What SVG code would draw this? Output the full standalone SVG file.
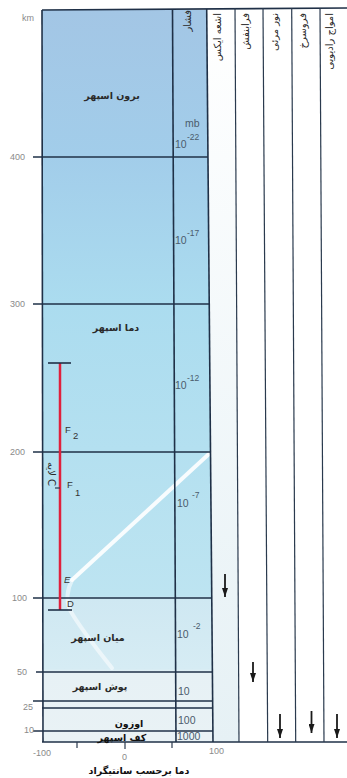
<svg xmlns="http://www.w3.org/2000/svg" width="347" height="778" viewBox="0 0 347 778">
<defs>
<linearGradient id="sky" x1="0" y1="10" x2="0" y2="742" gradientUnits="userSpaceOnUse">
<stop offset="0" stop-color="#a3c6e5"/>
<stop offset="0.2" stop-color="#a2cdea"/>
<stop offset="0.4" stop-color="#abdcef"/>
<stop offset="0.8" stop-color="#bde4f1"/>
<stop offset="0.805" stop-color="#cfe8f2"/>
<stop offset="0.9" stop-color="#d6ecf4"/>
<stop offset="0.905" stop-color="#e7f1f5"/>
<stop offset="1" stop-color="#e9f2f5"/>
</linearGradient>
<linearGradient id="col1" x1="0" y1="10" x2="0" y2="742" gradientUnits="userSpaceOnUse">
<stop offset="0" stop-color="#ffffff"/>
<stop offset="1" stop-color="#e6f1f5"/>
</linearGradient>
<marker id="ah" viewBox="0 0 10 10" refX="10" refY="5" markerWidth="9" markerHeight="6" preserveAspectRatio="none" orient="auto" markerUnits="userSpaceOnUse">
<path d="M0,0 L10,5 L0,10 Z" fill="#1a1a1a"/>
</marker>
<style>
.frame{stroke:#1f3047;stroke-width:1.6;fill:none}
.thin{stroke:#2a3a4e;stroke-width:1.2;fill:none}
.km{font-family:"Liberation Sans",Arial,sans-serif;font-size:9px;fill:#8a8a8a}
.pr{font-family:"Liberation Sans",Arial,sans-serif;font-size:10.5px;fill:#4b5c6c}
.sup{font-family:"Liberation Sans",Arial,sans-serif;font-size:8.5px;fill:#4b5c6c}
.fa{font-family:"DejaVu Sans",sans-serif;font-size:9.5px;font-weight:bold;fill:#2a2a2a}
.fab{font-family:"DejaVu Sans",sans-serif;font-size:9.5px;font-weight:bold;fill:#111}
.hd{font-family:"DejaVu Sans",sans-serif;font-size:10px;fill:#2a2a2a}
.lt{font-family:"Liberation Sans",Arial,sans-serif;font-size:9.5px;fill:#333}
.arr{stroke:#1a1a1a;stroke-width:1.8;marker-end:url(#ah)}
</style>
</defs>
<rect width="347" height="778" fill="#ffffff"/>
<!-- backgrounds -->
<polygon points="42,10 206.7,10 213,742 43,742" fill="url(#sky)"/>
<polygon points="206.7,8 235,8 239,742 213,742" fill="url(#col1)"/>
<!-- temperature profile -->
<path d="M210,453 L72,580" stroke="#ffffff" stroke-width="4" stroke-linecap="round" opacity="0.9" fill="none"/>
<path d="M72,580 Q64,596 70,610 Q80,628 112,668" stroke="#ffffff" stroke-width="4" stroke-linecap="round" opacity="0.55" fill="none"/>
<!-- frame lines -->
<g id="grid">
<line class="frame" x1="42" y1="10" x2="347" y2="8"/>
<line class="frame" x1="42" y1="742" x2="347" y2="742"/>
<line class="frame" x1="42" y1="10" x2="43" y2="742"/>
<line class="frame" x1="172.5" y1="10" x2="176" y2="742"/>
<line class="frame" x1="206.7" y1="9" x2="213" y2="742"/>
<line class="thin" x1="235" y1="8" x2="239" y2="742"/>
<line class="thin" x1="263" y1="8" x2="267.7" y2="742"/>
<line class="thin" x1="291.7" y1="8" x2="295.7" y2="742"/>
<line class="thin" x1="320" y1="8" x2="324" y2="742"/>
<line class="frame" x1="33" y1="157" x2="208" y2="157"/>
<line class="frame" x1="33" y1="304" x2="209" y2="304"/>
<line class="frame" x1="33" y1="452" x2="210" y2="452"/>
<line class="frame" x1="33" y1="598" x2="211.5" y2="598"/>
<line class="frame" x1="36" y1="672" x2="212" y2="672"/>
<line class="frame" x1="33" y1="701" x2="212.5" y2="701"/>
<line class="frame" x1="42" y1="708" x2="212.5" y2="708"/>
<line class="frame" x1="33" y1="731" x2="213" y2="731"/>
</g>
<!-- km axis -->
<g id="km-axis">
<text class="km" x="22" y="21">km</text>
<text class="km" x="10" y="160">400</text>
<text class="km" x="10" y="307">300</text>
<text class="km" x="10" y="455">200</text>
<text class="km" x="12" y="601">100</text>
<text class="km" x="17" y="675">50</text>
<text class="km" x="23" y="710">25</text>
<text class="km" x="24" y="733">10</text>
</g>
<!-- layer names -->
<g id="layers">
<text class="fa" x="112" y="99" text-anchor="middle">برون اسپهر</text>
<text class="fa" x="116" y="331" text-anchor="middle">دما اسپهر</text>
<text class="fa" x="98" y="641" text-anchor="middle">میان اسپهر</text>
<text class="fa" x="100" y="690" text-anchor="middle">پوش اسپهر</text>
<text class="fab" x="129" y="727" text-anchor="middle">اوزون</text>
<text class="fab" x="122" y="741" text-anchor="middle">کف اسپهر</text>
</g>
<!-- pressure -->
<g id="pressure">
<text class="hd" transform="translate(191,10) rotate(-90)" x="0" y="0" text-anchor="end">فشار</text>
<text class="pr" x="185" y="127" font-size="9.5">mb</text>
<text class="pr" x="175" y="148">10</text><text class="sup" x="187" y="140">-22</text>
<text class="pr" x="175" y="244">10</text><text class="sup" x="187" y="236">-17</text>
<text class="pr" x="175" y="389">10</text><text class="sup" x="187" y="381">-12</text>
<text class="pr" x="177" y="507">10</text><text class="sup" x="192" y="498">-7</text>
<text class="pr" x="177" y="638">10</text><text class="sup" x="193" y="629">-2</text>
<text class="pr" x="178" y="695">10</text>
<text class="pr" x="178" y="724">100</text>
<text class="pr" x="177" y="740">1000</text>
</g>
<!-- ionosphere red bar -->
<g id="ionosphere">
<line x1="60" y1="363" x2="60" y2="610" stroke="#e0203c" stroke-width="2.5"/>
<line class="frame" x1="48" y1="363" x2="71" y2="363"/>
<line class="frame" x1="48" y1="610" x2="72" y2="610"/>
<line class="thin" x1="55" y1="488" x2="60" y2="488"/>
<text class="lt" x="65" y="433">F</text><text class="lt" x="73" y="439" font-size="7.5">2</text>
<text class="lt" x="67" y="488">F</text><text class="lt" x="75" y="496" font-size="7.5">1</text>
<text class="lt" x="64" y="583" font-style="italic">E</text>
<text class="lt" x="67" y="607">D</text>
<text class="hd" font-size="8" transform="translate(48,462) rotate(90)" x="0" y="0">لایه C</text>
</g>
<!-- headers -->
<g id="headers">
<text class="hd" transform="translate(221,13) rotate(-90)" text-anchor="end">اشعه ایکس</text>
<text class="hd" transform="translate(249,13) rotate(-90)" text-anchor="end">فرابنفش</text>
<text class="hd" transform="translate(278,13) rotate(-90)" text-anchor="end">نور مرئی</text>
<text class="hd" transform="translate(306,13) rotate(-90)" text-anchor="end">فروسرخ</text>
<text class="hd" transform="translate(333,13) rotate(-90)" text-anchor="end">امواج رادیویی</text>
</g>
<!-- penetration arrows -->
<g id="connectors">
<line class="arr" x1="225" y1="574" x2="225" y2="597"/>
<line class="arr" x1="253" y1="662" x2="253" y2="682"/>
<line class="arr" x1="280" y1="714" x2="280" y2="738"/>
<line class="arr" x1="311.5" y1="711" x2="311.5" y2="733"/>
<line class="arr" x1="337" y1="714" x2="337" y2="738"/>
</g>
<!-- temperature axis -->
<g id="temp-axis">
<line class="thin" x1="77" y1="742" x2="77" y2="748"/>
<line class="thin" x1="125" y1="742" x2="125" y2="749"/>
<line class="thin" x1="172" y1="742" x2="172" y2="748"/>
<text class="km" x="33" y="756">-100</text>
<text class="km" x="122" y="760">0</text>
<text class="km" x="209" y="754">100</text>
<text class="fab" x="139" y="774" text-anchor="middle">دما برحسب سانتیگراد</text>
</g>
</svg>
